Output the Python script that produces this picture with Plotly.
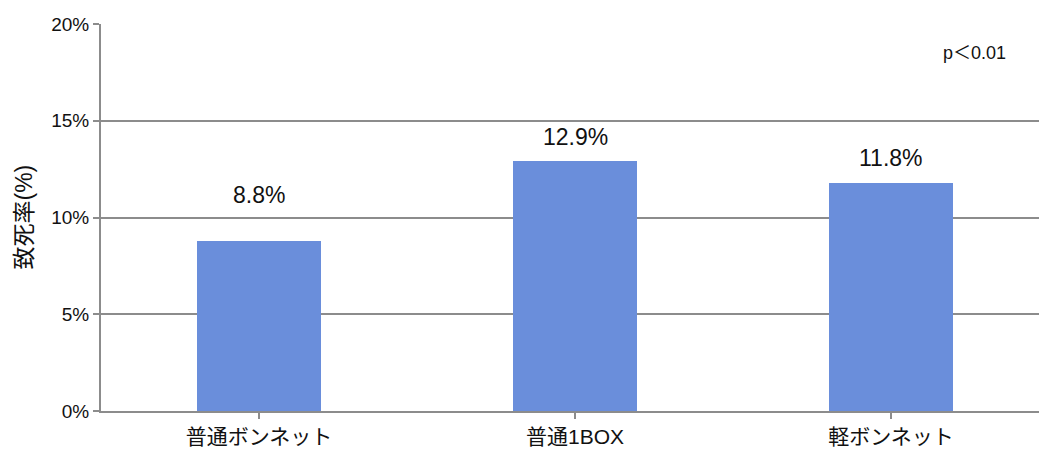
import plotly.graph_objects as go

categories = ["普通ボンネット", "普通1BOX", "軽ボンネット"]
values = [8.8, 12.9, 11.8]
value_labels = ["8.8%", "12.9%", "11.8%"]
y_ticks = [0, 5, 10, 15, 20]
y_tick_labels = ["0%", "5%", "10%", "15%", "20%"]
y_title = "致死率(%)"
note = "p＜0.01"

FONT = "Liberation Sans, Noto Sans CJK JP, sans-serif"
GRID = "#8c8c8c"
ML, PW = 101, 938

fig = go.Figure()
fig.add_trace(go.Bar(
    x=list(range(len(categories))), y=values,
    marker=dict(color="#6a8edb", line=dict(width=0)),
    width=0.395,
))

label_shift = [46, 24, 25]
for i, (v, t) in enumerate(zip(values, value_labels)):
    fig.add_annotation(x=i, y=v, text=t, showarrow=False, yshift=label_shift[i],
                       font=dict(size=23, color="#111", family=FONT))

fig.add_annotation(xref="paper", yref="paper", x=(974 - ML) / PW, y=0.925, text=note,
                   xanchor="center", yanchor="middle",
                   showarrow=False, font=dict(size=18, color="#111", family=FONT))

fig.add_annotation(xref="paper", yref="paper", x=(23 - ML) / PW, y=0.5, text=y_title,
                   textangle=-90, xanchor="center", yanchor="middle",
                   showarrow=False, font=dict(size=23, color="#111", family=FONT))

fig.update_layout(
    width=1039, height=454,
    margin=dict(l=ML, r=0, t=24, b=43, autoexpand=False),
    paper_bgcolor="white", plot_bgcolor="white",
    showlegend=False,
    font=dict(family=FONT, color="#111"),
    bargap=0,
)
fig.update_xaxes(
    automargin=False,
    range=[-0.5, -0.5 + PW / 316],
    tickvals=list(range(len(categories))), ticktext=categories,
    tickson="boundaries", ticks="outside", ticklen=6, tickcolor=GRID, tickwidth=2,
    showline=True, linecolor=GRID, linewidth=2,
    showgrid=False, zeroline=False,
    tickfont=dict(size=21, family=FONT, color="#111"),
)
fig.update_yaxes(
    automargin=False,
    range=[0, 20], tickvals=y_ticks, ticktext=y_tick_labels,
    ticks="outside", ticklen=6, tickcolor=GRID, tickwidth=2,
    showline=True, linecolor=GRID, linewidth=2,
    showgrid=True, gridcolor=GRID, gridwidth=2, zeroline=False,
    tickfont=dict(size=19, family=FONT, color="#111"),
)

fig.write_html(
    "out.html",
    config={"displayModeBar": False},
    post_script="document.body.style.margin='0';document.body.style.overflow='hidden';",
)
